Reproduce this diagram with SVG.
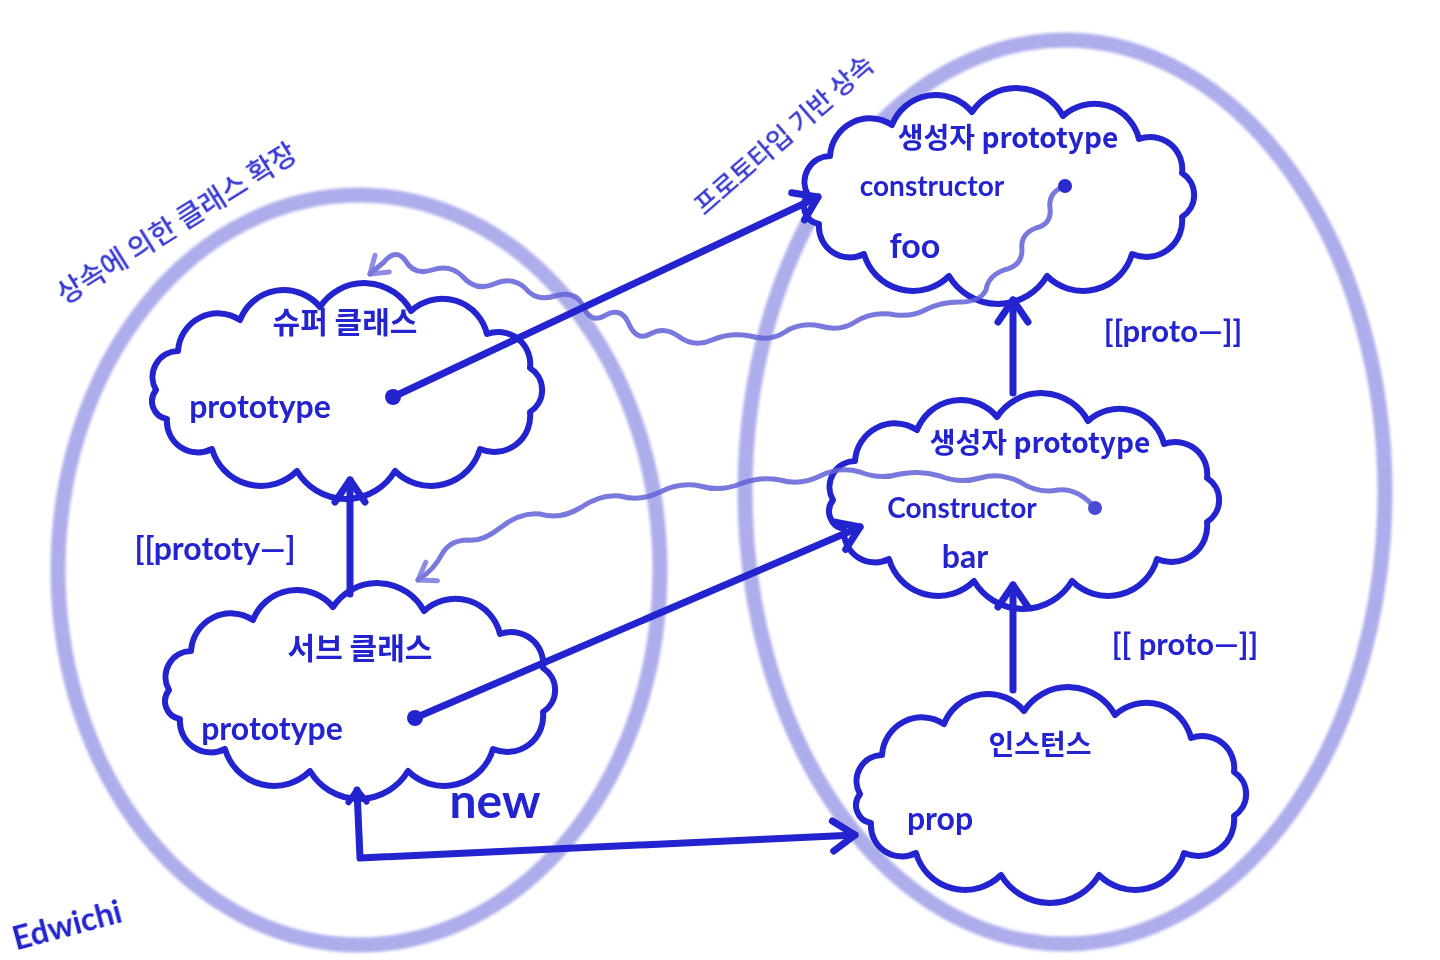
<svg xmlns="http://www.w3.org/2000/svg" xmlns:xlink="http://www.w3.org/1999/xlink" width="1440" height="960" viewBox="0 0 1440 960">
<style>
.oval{fill:none;stroke:#a4a4ea;stroke-width:15;opacity:0.9}
.cloud{fill:#ffffff;stroke:#2323cf;stroke-width:6;stroke-linejoin:round;stroke-linecap:round}
.arr{fill:none;stroke:#2323cf;stroke-width:7;stroke-linecap:round;stroke-linejoin:round}
.wave{fill:none;stroke:#6262d8;stroke-width:5;stroke-linecap:round;stroke-linejoin:round;opacity:0.85}
.dot{fill:#2323cf}
.t{fill:#2323cf;font-family:"Noto Sans CJK KR","Noto Sans",sans-serif;font-weight:700}
.l{fill:#2323cf;font-family:"Lato","Liberation Sans",sans-serif;font-weight:700}
.side{fill:#3a3ad2;font-family:"Noto Sans CJK KR",sans-serif;font-weight:500}
</style>
<defs>
<filter id="soft" x="-5%" y="-5%" width="110%" height="110%"><feGaussianBlur stdDeviation="1.6"/></filter>
<path id="cloudShape" d="M-190,0 A26,26 0 0 1 -168,-39 A40,40 0 0 1 -106,-70 A47,47 0 0 1 -26,-83 A53,53 0 0 1 65,-79 A46,46 0 0 1 141,-56 A32,32 0 0 1 184,-22 A26,26 0 0 1 184,22 A36,36 0 0 1 134,59 A51,51 0 0 1 49,81 A57,57 0 0 1 -49,81 A51,51 0 0 1 -134,59 A31,31 0 0 1 -179,29 A18,18 0 0 1 -190,0 Z"/>
<marker id="ah" viewBox="-30 -22 36 44" markerWidth="36" markerHeight="44" refX="0" refY="0" orient="auto" markerUnits="userSpaceOnUse">
<path d="M-22,-15 L0,0 L-22,15" fill="none" stroke="#2323cf" stroke-width="7" stroke-linecap="round" stroke-linejoin="round"/>
</marker>
<marker id="ahs" viewBox="-20 -16 26 32" markerWidth="26" markerHeight="32" refX="0" refY="0" orient="auto-start-reverse" markerUnits="userSpaceOnUse">
<path d="M-12,-9 L0,0 L-12,9" fill="none" stroke="#2323cf" stroke-width="6" stroke-linecap="round" stroke-linejoin="round"/>
</marker>
<marker id="wh" viewBox="-24 -18 30 36" markerWidth="30" markerHeight="36" refX="0" refY="0" orient="auto" markerUnits="userSpaceOnUse">
<path d="M-16,-11 L0,0 L-16,11" fill="none" stroke="#6262d8" stroke-width="5" stroke-linecap="round" stroke-linejoin="round" opacity="0.85"/>
</marker>
</defs>
<rect width="1440" height="960" fill="#ffffff"/>

<g id="groups" filter="url(#soft)">
<ellipse class="oval" cx="359" cy="570" rx="301" ry="375"/>
<ellipse class="oval" cx="1065" cy="492" rx="320" ry="452"/>
</g>

<g id="super-class">
<use xlink:href="#cloudShape" class="cloud" transform="translate(346,390)"/>
<text class="t" x="345" y="333" font-size="30" text-anchor="middle">슈퍼 클래스</text>
<text class="l" x="260" y="418" font-size="32" text-anchor="middle">prototype</text>
</g>

<g id="sub-class">
<use xlink:href="#cloudShape" class="cloud" transform="translate(359,690)"/>
<text class="t" x="360" y="659" font-size="30" text-anchor="middle">서브 클래스</text>
<text class="l" x="272" y="740" font-size="32" text-anchor="middle">prototype</text>
</g>

<g id="ctor-foo">
<use xlink:href="#cloudShape" class="cloud" transform="translate(998,195)"/>
<text class="t" x="1008" y="148" font-size="28" text-anchor="middle">생성자 prototype</text>
<text class="l" x="932" y="196" font-size="28" text-anchor="middle">constructor</text>
<text class="l" x="915" y="258" font-size="34" text-anchor="middle">foo</text>
</g>

<g id="ctor-bar">
<use xlink:href="#cloudShape" class="cloud" transform="translate(1023,500)"/>
<text class="t" x="1040" y="453" font-size="28" text-anchor="middle">생성자 prototype</text>
<text class="l" x="962" y="518" font-size="28" text-anchor="middle">Constructor</text>
<text class="l" x="965" y="568" font-size="32" text-anchor="middle">bar</text>
</g>

<g id="instance">
<use xlink:href="#cloudShape" class="cloud" transform="translate(1050,794)"/>
<text class="t" x="1040" y="755" font-size="28" text-anchor="middle">인스턴스</text>
<text class="l" x="940" y="830" font-size="32" text-anchor="middle">prop</text>
</g>

<g id="connectors">
<path class="wave" marker-end="url(#wh)" d="M1065,186 Q1048,192 1050,208 Q1052,224 1036,228 Q1020,234 1022,250 Q1022,266 1004,270 Q988,276 986,290 Q980,302 960,302 Q940,302 925,310 Q910,318 890,314 Q870,312 855,322 Q840,332 820,326 Q800,322 785,332 Q770,342 750,336 Q730,332 712,340 Q694,348 678,336 Q664,326 650,334 Q636,342 628,322 Q620,306 604,316 Q590,324 582,304 Q574,290 555,296 Q536,302 525,288 Q512,276 494,284 Q476,292 462,276 Q450,264 432,270 Q414,276 405,260 Q396,248 384,262 L370,274"/>
<path class="wave" marker-end="url(#wh)" d="M1095,508 Q1078,488 1058,490 Q1038,494 1020,482 Q1000,472 980,478 Q960,484 940,476 Q920,470 900,474 Q880,480 860,472 Q840,466 820,476 Q800,486 780,480 Q760,476 740,484 Q720,492 700,486 Q680,482 660,492 Q640,502 620,496 Q600,494 580,508 Q560,520 540,514 Q520,512 500,528 Q482,542 468,540 Q450,540 442,554 Q434,570 418,580"/>
<circle cx="1065" cy="186" r="7" fill="#2a2ad0"/>
<circle cx="1095" cy="508" r="7" fill="#4a4ad6"/>
<line class="arr" x1="393" y1="397" x2="818" y2="197" marker-end="url(#ah)"/>
<line class="arr" x1="415" y1="718" x2="860" y2="527" marker-end="url(#ah)"/>
<line class="arr" x1="350" y1="594" x2="350" y2="480" marker-end="url(#ah)"/>
<line class="arr" x1="1013" y1="393" x2="1013" y2="300" marker-end="url(#ah)"/>
<line class="arr" x1="1013" y1="690" x2="1013" y2="585" marker-end="url(#ah)"/>
<path class="arr" d="M357,790 L360,858 L855,835" marker-start="url(#ahs)" marker-end="url(#ah)"/>
<circle class="dot" cx="393" cy="397" r="8"/>
<circle class="dot" cx="415" cy="718" r="8"/>
</g>

<g id="labels">
<text class="l" x="495" y="818" font-size="48" text-anchor="middle">new</text>
<text class="l" x="215" y="560" font-size="32" text-anchor="middle">[[prototy—]</text>
<text class="l" x="1173" y="342" font-size="31" text-anchor="middle">[[proto—]]</text>
<text class="l" x="1185" y="655" font-size="31" text-anchor="middle">[[ proto—]]</text>
<text class="side" font-size="28" text-anchor="middle" transform="translate(182,232) rotate(-32)">상속에 의한 클래스 확장</text>
<text class="side" font-size="26" text-anchor="middle" transform="translate(790,142) rotate(-41)">프로토타입 기반 상속</text>
<text class="l" font-size="32" text-anchor="middle" transform="translate(70,936) rotate(-15)">Edwichi</text>
</g>
</svg>
